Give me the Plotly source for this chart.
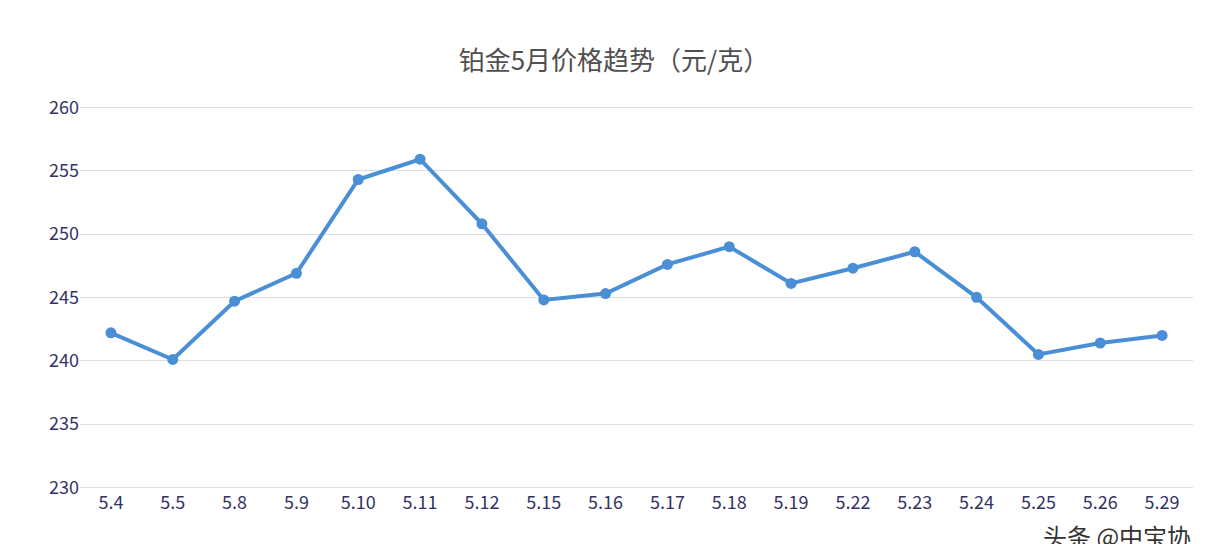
import plotly.graph_objects as go

dates = ['5.4', '5.5', '5.8', '5.9', '5.10', '5.11', '5.12', '5.15', '5.16', '5.17',
         '5.18', '5.19', '5.22', '5.23', '5.24', '5.25', '5.26', '5.29']
prices = [242.2, 240.1, 244.7, 246.9, 254.3, 255.9, 250.8, 244.8, 245.3, 247.6,
          249.0, 246.1, 247.3, 248.6, 245.0, 240.5, 241.4, 242.0]

fig = go.Figure(go.Scatter(
    x=dates, y=prices, mode='lines+markers',
    line=dict(color='#4a8fd6', width=4),
    marker=dict(color='#4a8fd6', size=11),
    cliponaxis=False,
))
fig.update_layout(
    width=1212, height=544,
    paper_bgcolor='white', plot_bgcolor='white',
    margin=dict(l=72, r=27, t=98, b=62, autoexpand=False),
    font=dict(family='Noto Sans CJK SC', color='#404040'),
    title=dict(text='铂金5月价格趋势（元/克）', x=0.5, y=0.92, xanchor='center',
               font=dict(size=26, color='#505050')),
    showlegend=False,
    annotations=[dict(text='头条 @中宝协', xref='paper', yref='paper', x=1.0, y=-0.17,
                      xanchor='right', showarrow=False,
                      font=dict(size=24, color='#333333'))],
)
fig.update_xaxes(range=[-0.5, 17.5], showgrid=False, showline=False, ticks='',
                 automargin=False, tickfont=dict(size=18, color='#333366'))
fig.update_yaxes(range=[229.8, 260.1], tickvals=[230, 235, 240, 245, 250, 255, 260],
                 gridcolor='#d9dde6', zeroline=False, automargin=False,
                 tickfont=dict(size=18, color='#333366'), ticksuffix='      ')
fig.write_html("out.html")
